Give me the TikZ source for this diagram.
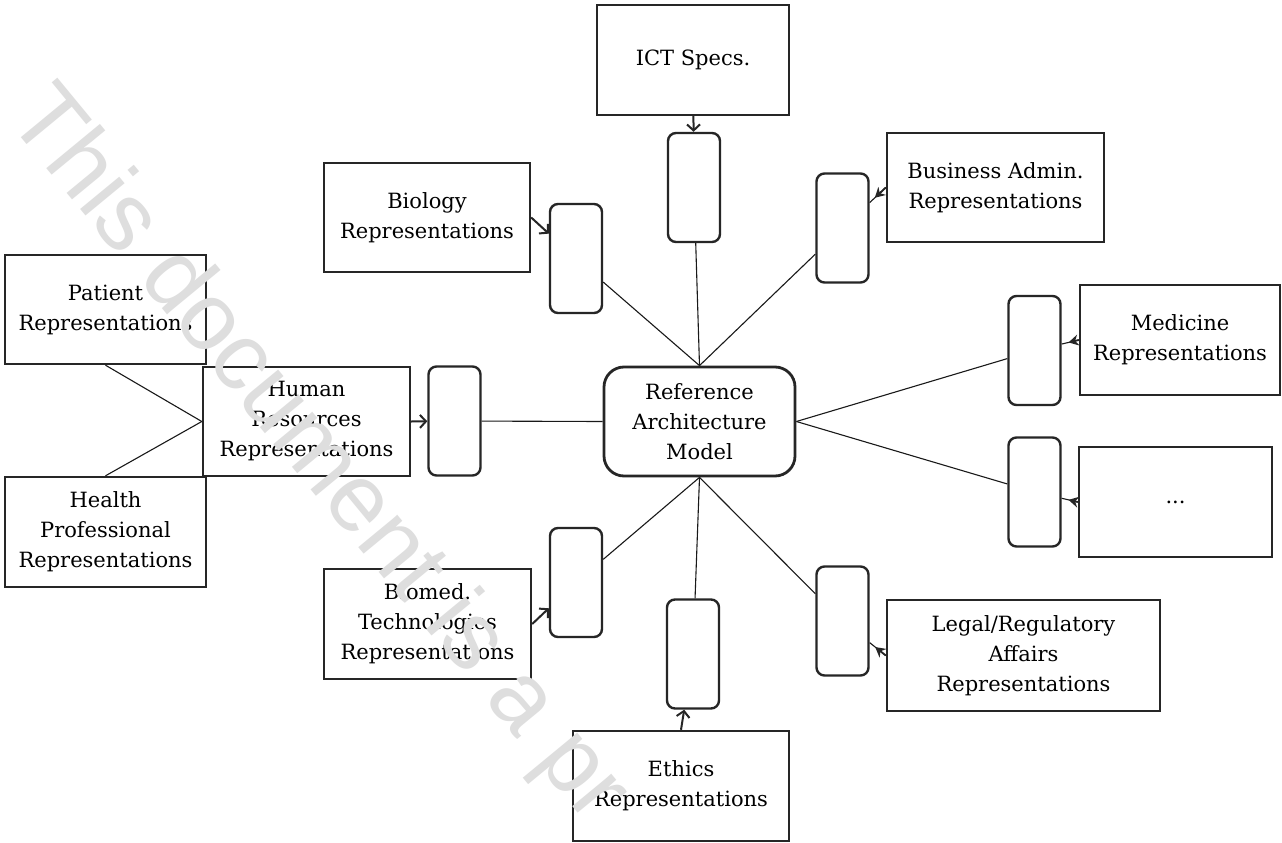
\documentclass[tikz,border=0pt]{standalone}
\usepackage{fontspec}
\setmainfont{DejaVu Serif}
\newfontfamily\wmfont{Liberation Sans}
\usetikzlibrary{arrows.meta,calc}
\begin{document}
\begin{tikzpicture}[x=1pt,y=-1pt,
  bigbox/.style={draw=black!85, line width=2.4pt, fill=white, align=center,
    font=\fontsize{21}{30}\selectfont, inner sep=0pt},
  smallbox/.style={draw=black!85, line width=2.4pt, fill=white, rounded corners=8pt,
    minimum width=52pt, minimum height=109pt, inner sep=0pt},
  centerbox/.style={bigbox, rounded corners=20pt, line width=2.8pt},
  link/.style={draw=black!90, line width=1.1pt},
  feed/.style={draw=black!85, line width=2pt, -{Straight Barb[length=6pt,width=13pt]}},
  feedr/.style={draw=black!85, line width=1.8pt, shorten >=7pt, -{Stealth[length=10pt,width=11pt]}},
  wm/.style={font=\wmfont\fontsize{96}{96}\selectfont, text=black!13, inner sep=0pt}
]
\useasboundingbox (0,0) rectangle (1282,843);
\fill[white] (0,0) rectangle (1282,843);

% big boxes
\node[bigbox, minimum width=192pt, minimum height=110pt] (ict) at (693,60) {ICT Specs.};
\node[bigbox, minimum width=217pt, minimum height=109pt] (bus) at (995.5,187.5) {Business Admin.\\Representations};
\node[bigbox, minimum width=206pt, minimum height=109pt] (bio) at (427,217.5) {Biology\\Representations};
\node[bigbox, minimum width=201pt, minimum height=109pt] (pat) at (105.5,309.5) {Patient\\Representations};
\node[bigbox, minimum width=201pt, minimum height=110pt] (hea) at (105.5,532) {Health\\Professional\\Representations};
\node[bigbox, minimum width=207pt, minimum height=109pt] (hr) at (306.5,421.5) {Human\\Resources\\Representations};
\node[bigbox, minimum width=200pt, minimum height=110pt] (med) at (1180,340) {Medicine\\Representations};
\node[bigbox, minimum width=193pt, minimum height=110pt] (dots) at (1175.5,502) {...};
\node[bigbox, minimum width=207pt, minimum height=110pt] (biomed) at (427.5,624) {Biomed.\\Technologies\\Representations};
\node[bigbox, minimum width=216pt, minimum height=110pt] (eth) at (681,786) {Ethics\\Representations};
\node[bigbox, minimum width=273pt, minimum height=111pt] (leg) at (1023.5,655.5) {Legal/Regulatory\\Affairs\\Representations};
\node[centerbox, minimum width=191pt, minimum height=109pt] (ram) at (699.5,421.5) {Reference\\Architecture\\Model};

% small boxes
\node[smallbox] (icts) at (694,187.5) {};
\node[smallbox] (buss) at (842.5,228) {};
\node[smallbox] (bios) at (576,258.5) {};
\node[smallbox] (hrs) at (454.5,421) {};
\node[smallbox] (meds) at (1034.5,350.5) {};
\node[smallbox] (dotss) at (1034.5,492) {};
\node[smallbox] (biomeds) at (576,582.5) {};
\node[smallbox] (eths) at (693,654) {};
\node[smallbox] (legs) at (842.5,621) {};

% links to the central model
\draw[link] (ram.north) -- (icts);
\draw[link] (ram.north) -- (bios);
\draw[link] (ram.north) -- (buss);
\draw[link] (ram.west) -- (hrs);
\draw[link] (ram.east) -- (meds);
\draw[link] (ram.east) -- (dotss);
\draw[link] (ram.south) -- (biomeds);
\draw[link] (ram.south) -- (eths);
\draw[link] (ram.south) -- (legs);
\draw[link] (pat.south) -- (hr.west);
\draw[link] (hea.north) -- (hr.west);

% feeds into the small boxes
\draw[feed] (ict) -- (icts);
\draw[feed] (bio.east) -- (bios);
\draw[feed] (hr.east) -- (hrs);
\draw[feed] (biomed.east) -- (biomeds);
\draw[feed] (eth.north) -- (eths);
\draw[link] (bus.west) -- (buss);
\draw[feedr] (bus.west) -- (buss);
\draw[link] (med.west) -- (meds);
\draw[feedr] (med.west) -- (meds);
\draw[link] (dots.west) -- (dotss);
\draw[feedr] (dots.west) -- (dotss);
\draw[link] (leg.west) -- (legs);
\draw[feedr] (leg.west) -- (legs);

% watermark
\begin{scope}
\clip (0,0) rectangle (1282,843);
\node[wm, rotate=-50.5, anchor=base west] (wmk) at (5,118) {This document is a pr};
\end{scope}
\end{tikzpicture}
\end{document}
